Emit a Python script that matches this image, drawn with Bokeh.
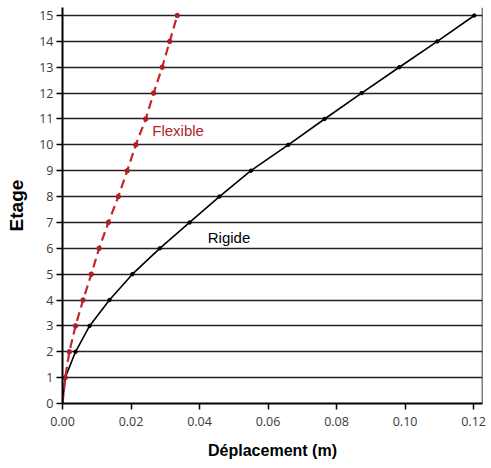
from bokeh.plotting import figure
from bokeh.models import FixedTicker, Range1d, Span, Label, NumeralTickFormatter
from bokeh.embed import file_html
from bokeh.resources import INLINE

floors = list(range(16))
rigide = [0.0000, 0.0008, 0.0038, 0.0079, 0.0137, 0.0204, 0.0284, 0.0371,
          0.0458, 0.0550, 0.0659, 0.0765, 0.0873, 0.0983, 0.1094, 0.1202]
flexible = [0.0000, 0.0008, 0.0020, 0.0038, 0.0060, 0.0084, 0.0107, 0.0134,
            0.0163, 0.0189, 0.0214, 0.0243, 0.0266, 0.0291, 0.0313, 0.0335]
x_ticks = [0.00, 0.02, 0.04, 0.06, 0.08, 0.10, 0.12]
y_ticks = list(range(16))

X_END = 0.1226
p = figure(width=491, height=468, output_backend="svg", toolbar_location=None,
           x_range=Range1d(0, X_END), y_range=Range1d(0, 15.31),
           min_border_left=62, min_border_right=9, min_border_top=7, min_border_bottom=65)
p.outline_line_color = None
p.background_fill_color = "white"

p.xgrid.visible = False
p.ygrid.ticker = FixedTicker(ticks=y_ticks[1:])
p.ygrid.grid_line_color = "#222222"
p.ygrid.grid_line_width = 1.4

p.xaxis.ticker = FixedTicker(ticks=x_ticks)
p.xaxis.formatter = NumeralTickFormatter(format="0.00")
p.yaxis.ticker = FixedTicker(ticks=y_ticks)

for ax in (p.xaxis[0], p.yaxis[0]):
    ax.axis_line_color = "black"
    ax.axis_line_width = 2
    ax.major_tick_line_color = "black"
    ax.major_tick_line_width = 1.5
    ax.major_tick_out = 6
    ax.major_tick_in = 0
    ax.minor_tick_line_color = None
    ax.major_label_text_font = "Open Sans"
    ax.major_label_text_font_size = "12.5px"
    ax.major_label_text_color = "#3a3a3a"
    ax.axis_label_text_font = "Liberation Sans"
    ax.axis_label_text_font_style = "bold"
    ax.axis_label_text_color = "black"

p.xaxis.major_label_standoff = 7
p.yaxis.major_label_standoff = 3
p.xaxis.axis_label = "Déplacement (m)"
p.xaxis.axis_label_text_font_size = "16px"
p.xaxis.axis_label_standoff = 13
p.yaxis.axis_label = "Etage"
p.yaxis.axis_label_text_font_size = "19px"
p.yaxis.axis_label_standoff = 9

p.add_layout(Span(location=X_END, dimension="height", line_color="black", line_width=1.5))

p.line(rigide, floors, line_color="black", line_width=1.6)
p.scatter(rigide[1:], floors[1:], size=3.5, color="black")

p.line(flexible, floors, line_color="#c1272d", line_width=2.2, line_dash="9 5")
p.scatter(flexible[1:], floors[1:], size=4.5, color="#b01e28")

p.add_layout(Label(x=0.0262, y=10.55, text="Flexible", text_color="#b0242c",
                   text_font="Liberation Sans", text_font_size="15px", text_baseline="middle"))
p.add_layout(Label(x=0.0424, y=6.42, text="Rigide", text_color="black",
                   text_font="Liberation Sans", text_font_size="15px", text_baseline="middle"))

open("out.html", "w").write(file_html(p, INLINE))
